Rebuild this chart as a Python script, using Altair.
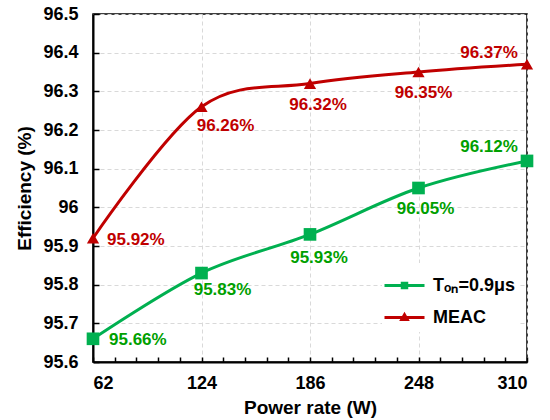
import altair as alt
import pandas as pd

# ---- data ----
power = [62, 124, 186, 248, 310]
ton_eff = [95.66, 95.83, 95.93, 96.05, 96.12]
meac_eff = [95.92, 96.26, 96.32, 96.35, 96.37]
series_names = ["Tₒₙ=0.9μs", "MEAC"]
x_ticks = [62, 124, 186, 248, 310]
y_ticks = [95.6, 95.7, 95.8, 95.9, 96.0, 96.1, 96.2, 96.3, 96.4, 96.5]
x_minor = [round(62 + 12.4 * i, 1) for i in range(21)]

GREEN = "#00B050"
GREEN_TXT = "#00A000"
RED = "#C00000"
FONT = "Liberation Sans"

rows = []
for p, v in zip(power, ton_eff):
    rows.append({"power": p, "eff": v, "series": series_names[0]})
for p, v in zip(power, meac_eff):
    rows.append({"power": p, "eff": v, "series": series_names[1]})
df = pd.DataFrame(rows)

W, H = 434, 348

xs = alt.Scale(domain=[62, 310], nice=False, zero=False)
ys = alt.Scale(domain=[95.6, 96.5], nice=False, zero=False)
cs = alt.Scale(domain=series_names, range=[GREEN, RED])

base = alt.Chart(df)

line = base.mark_line(interpolate="cardinal", strokeWidth=3).encode(
    x=alt.X("power:Q", scale=xs, title="Power rate (W)",
            axis=alt.Axis(values=x_ticks, orient="bottom", ticks=False, labelPadding=12,
                          titlePadding=6, grid=True, gridDash=[4, 3], gridColor="#D9D9D9",
                          domainColor="black", domainWidth=2)),
    y=alt.Y("eff:Q", scale=ys, title="Efficiency (%)",
            axis=alt.Axis(values=y_ticks, orient="left", ticks=False, labelPadding=15,
                          titlePadding=8, format=".3~r", grid=True, gridDash=[4, 3],
                          gridColor="#D9D9D9", domainColor="black", domainWidth=2)),
    color=alt.Color("series:N", scale=cs, legend=None),
    detail="series:N",
)

# markers: green squares, red triangles
pts_green = base.transform_filter(alt.datum.series == series_names[0]).mark_point(
    filled=True, opacity=1, size=160, shape="square", color=GREEN).encode(
    x=alt.X("power:Q", scale=xs,
            axis=alt.Axis(values=x_minor, orient="top", offset=-H, labels=False, domain=False,
                          grid=False, tickSize=5, tickColor="black", tickWidth=1.5, title=None)),
    y=alt.Y("eff:Q", scale=ys,
            axis=alt.Axis(values=y_ticks, orient="right", offset=-W, labels=False, domain=False,
                          grid=False, tickSize=6, tickColor="black", tickWidth=1.5, title=None)),
)
pts_red = base.transform_filter(alt.datum.series == series_names[1]).mark_point(
    filled=True, opacity=1, size=150, shape="triangle-up", color=RED).encode(
    x=alt.X("power:Q", scale=xs, axis=None),
    y=alt.Y("eff:Q", scale=ys, axis=None),
)

# label offsets (per series, per x position): dx, dy, align
offsets = {
    series_names[1]: {62: (14, 2, "left"), 124: (24, 19, "center"), 186: (8, 21, "center"),
                      248: (5, 21, "center"), 310: (-38, -11, "center")},
    series_names[0]: {62: (16, 1, "left"), 124: (21, 17, "center"), 186: (9, 24, "center"),
                      248: (7, 21, "center"), 310: (-38, -14, "center")},
}

label_layers = []
for s, d in offsets.items():
    col = RED if s == "MEAC" else GREEN_TXT
    for xv, (dx, dy, al) in d.items():
        lay = base.transform_filter(
            (alt.datum.series == s) & (alt.datum.power == xv)
        ).transform_calculate(
            label="format(datum.eff, '.2f') + '%'"
        ).mark_text(dx=dx, dy=dy, align=al, baseline="middle", font=FONT, fontSize=17,
                    fontWeight="bold", color=col).encode(
            x=alt.X("power:Q", scale=xs, axis=None),
            y=alt.Y("eff:Q", scale=ys, axis=None),
            text="label:N",
        )
        label_layers.append(lay)

leg = alt.Legend(
    title=None, orient="none", legendX=289, legendY=249, fillColor="white", padding=5,
    symbolSize=1024, symbolStrokeWidth=3, symbolOpacity=1, labelOffset=11,
    labelFont=FONT, labelFontSize=18, labelFontWeight="bold", labelColor="black",
    labelLimit=300, rowPadding=5,
)
legend_layer = base.transform_filter("false").mark_point(filled=True, opacity=1).encode(
    stroke=alt.Stroke("series:N", scale=alt.Scale(domain=series_names, range=[GREEN, RED]), legend=leg),
    fill=alt.Fill("series:N", scale=alt.Scale(domain=series_names, range=[GREEN, RED]), legend=leg),
    shape=alt.Shape("series:N", scale=alt.Scale(
        domain=series_names,
        range=["M-1.25,0H1.25M-0.14,-0.14H0.14V0.14H-0.14Z",
               "M-1.25,0H1.25M-0.17,0.13L0,-0.17L0.17,0.13Z"]), legend=leg),
)

chart = alt.layer(line, pts_green, pts_red, *label_layers, legend_layer).resolve_axis(
    x="independent", y="independent"
).resolve_scale(
    shape="independent", fill="independent", stroke="independent"
).properties(
    width=W, height=H,
    autosize=alt.AutoSizeParams(type="none"),
    padding={"left": 93, "top": 14, "right": 23, "bottom": 58},
    background="white",
).configure_view(
    stroke="black", strokeWidth=1.5
).configure_axis(
    labelFont=FONT, labelFontSize=18, labelFontWeight="bold", labelColor="black",
    titleFont=FONT, titleFontSize=19, titleFontWeight="bold", titleColor="black",
)

chart.save("out.html", embed_options={"renderer": "svg", "actions": False})
